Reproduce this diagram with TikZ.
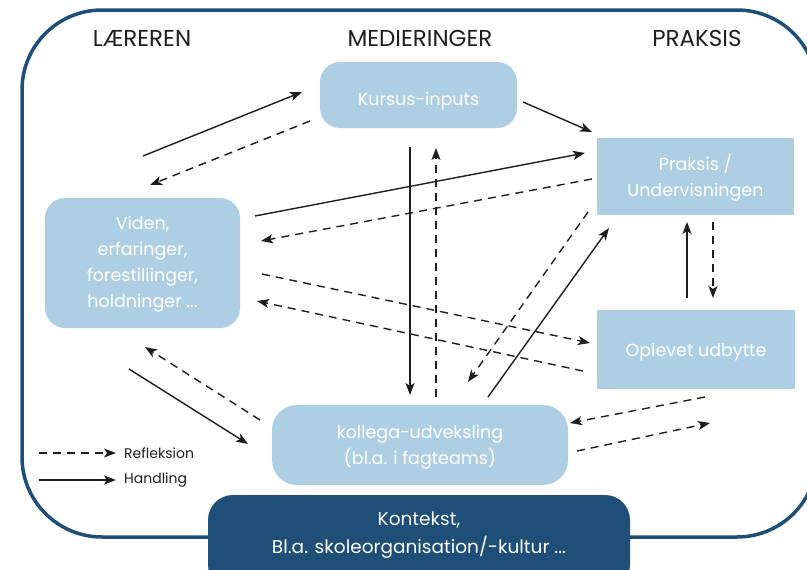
\documentclass[tikz,border=0pt]{standalone}
\usepackage{fontspec}
\setmainfont{Poppins}
\usetikzlibrary{arrows.meta,calc}
\definecolor{lightbox}{HTML}{AECFE3}
\definecolor{darkblue}{HTML}{1F4E79}
\definecolor{ink}{HTML}{1E1E1E}
\begin{document}
\begin{tikzpicture}[x=1pt,y=-1pt,
  box/.style={fill=lightbox,draw=none,inner sep=0pt},
  boxtext/.style={text=white,align=center,font=\fontsize{17.5}{26}\selectfont,inner sep=0pt},
  act/.style={-{Stealth[length=12pt,width=9pt,inset=3pt]}, line width=1.4pt, draw=ink},
  refl/.style={act, dash pattern=on 8pt off 6pt},
  head/.style={text=ink,font=\fontsize{23}{26}\selectfont},
  legend/.style={text=ink,font=\fontsize{14}{16}\selectfont,anchor=west,inner sep=0pt}
]
\useasboundingbox (0,0) rectangle (807,570);
\begin{scope}
\clip (0,0) rectangle (807,570);
\draw[darkblue, line width=3.5pt, rounded corners=80pt] (22,10) rectangle (817,537);
\node[fill=darkblue, rounded corners=25pt, minimum width=422pt, minimum height=95pt, inner sep=0pt] (ctx) at (419,542.5) {};
\end{scope}
\node[text=white,align=center,font=\fontsize{18.5}{28}\selectfont,inner sep=0pt] (ctxtext) at (419,535) {Kontekst,\\Bl.a. skoleorganisation/-kultur ...};

% headings
\node[head] (hl) at (142,38) {LÆREREN};
\node[head] (hm) at (420,38) {MEDIERINGER};
\node[head] (hp) at (697,38) {PRAKSIS};

% boxes
\node[box, rounded corners=20pt, minimum width=197pt, minimum height=66pt] (kurs) at (418.5,95) {};
\node[boxtext] at (418.5,101) {Kursus-inputs};
\node[box, minimum width=197pt, minimum height=77pt] (prak) at (695.5,176.5) {};
\node[boxtext] at (695.5,178) {Praksis /\\Undervisningen};
\node[box, minimum width=198pt, minimum height=79pt] (opl) at (696,349.5) {};
\node[boxtext] at (696,352) {Oplevet udbytte};
\node[box, rounded corners=20pt, minimum width=195pt, minimum height=130pt] (vid) at (142.5,263) {};
\node[boxtext] at (142.5,264) {Viden,\\erfaringer,\\forestillinger,\\holdninger ...};
\node[box, rounded corners=25pt, minimum width=296pt, minimum height=80pt] (kol) at (420,445) {};
\node[boxtext] at (420,447) {kollega-udveksling\\(bl.a. i fagteams)};

% endpoints
\coordinate (a1s) at (143,156); \coordinate (a1e) at (302,92);
\coordinate (a2s) at (310,121); \coordinate (a2e) at (150,185);
\coordinate (a3s) at (523,102); \coordinate (a3e) at (592,132);
\coordinate (a4s) at (255,216); \coordinate (a4e) at (585,153);
\coordinate (a5s) at (592,179); \coordinate (a5e) at (261,241);
\coordinate (a6s) at (410,147); \coordinate (a6e) at (410,395);
\coordinate (a7s) at (436,397); \coordinate (a7e) at (436,148);
\coordinate (a8s) at (262,274); \coordinate (a8e) at (590,343);
\coordinate (a9s) at (583,371); \coordinate (a9e) at (257,301);
\coordinate (a10s) at (588,212); \coordinate (a10e) at (468,382);
\coordinate (a11s) at (488,397); \coordinate (a11e) at (609,228);
\coordinate (a12s) at (687,298); \coordinate (a12e) at (687,222);
\coordinate (a13s) at (713,222); \coordinate (a13e) at (713,298);
\coordinate (a14s) at (705,397); \coordinate (a14e) at (570,423);
\coordinate (a15s) at (577,451); \coordinate (a15e) at (710,423);
\coordinate (a16s) at (260,420); \coordinate (a16e) at (145,347);
\coordinate (a17s) at (129,369); \coordinate (a17e) at (248,444);

\draw[act] (a1s) -- (a1e);
\draw[refl] (a2s) -- (a2e);
\draw[act] (a3s) -- (a3e);
\draw[act] (a4s) -- (a4e);
\draw[refl] (a5s) -- (a5e);
\draw[act] (a6s) -- (a6e);
\draw[refl] (a7s) -- (a7e);
\draw[refl] (a8s) -- (a8e);
\draw[refl] (a9s) -- (a9e);
\draw[refl] (a10s) -- (a10e);
\draw[act] (a11s) -- (a11e);
\draw[act] (a12s) -- (a12e);
\draw[refl] (a13s) -- (a13e);
\draw[refl] (a14s) -- (a14e);
\draw[refl] (a15s) -- (a15e);
\draw[refl] (a16s) -- (a16e);
\draw[act] (a17s) -- (a17e);

% legend
\coordinate (l1s) at (39,453); \coordinate (l1e) at (116,453);
\coordinate (l2s) at (39,480); \coordinate (l2e) at (116,480);
\draw[refl] (l1s) -- (l1e);
\draw[act] (l2s) -- (l2e);
\node[legend] (lt1) at (124,453) {Refleksion};
\node[legend] (lt2) at (124,480) {Handling};
\end{tikzpicture}
\end{document}
